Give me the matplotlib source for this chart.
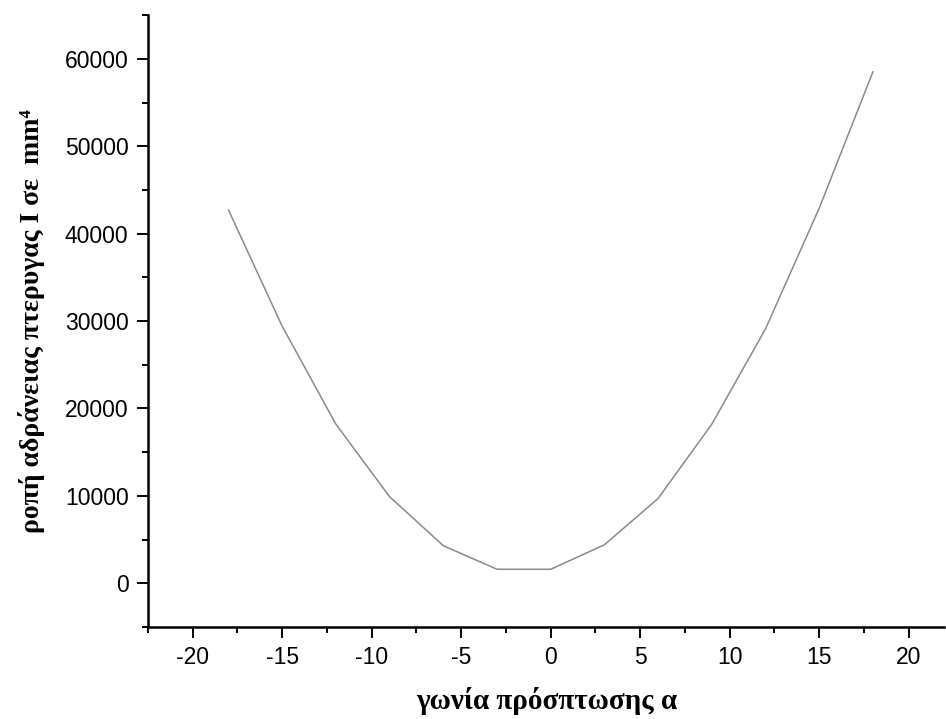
import matplotlib
matplotlib.use('Agg')
import matplotlib.pyplot as plt
from matplotlib.ticker import MultipleLocator

plt.rcParams['axes.unicode_minus'] = False

# γωνία πρόσπτωσης (μοίρες) και ροπή αδράνειας (mm^4)
gonia = [-18, -15, -12, -9, -6, -3, 0, 3, 6, 9, 12, 15, 18]
ropi = [42700, 29400, 18200, 9900, 4300, 1600, 1600, 4400, 9700, 18200, 29100, 42900, 58500]

fig = plt.figure(figsize=(9.46, 7.19), dpi=100)
ax = fig.add_axes([0.1564, 0.128, 0.842, 0.851])

ax.plot(gonia, ropi, color='#8a8a8a', lw=1.1)

ax.set_xlim(-22.5, 22)
ax.set_ylim(-5000, 65000)
ax.xaxis.set_major_locator(MultipleLocator(5))
ax.xaxis.set_minor_locator(MultipleLocator(2.5))
ax.yaxis.set_major_locator(MultipleLocator(10000))
ax.yaxis.set_minor_locator(MultipleLocator(5000))

for s in ['top', 'right']:
    ax.spines[s].set_visible(False)
for s in ['left', 'bottom']:
    ax.spines[s].set_linewidth(1.8)

ax.tick_params(which='major', direction='out', length=8, width=1.4, labelsize=16.5, pad=6)
ax.tick_params(which='minor', direction='out', length=4, width=1.4)
for lab in ax.get_xticklabels() + ax.get_yticklabels():
    lab.set_family('Liberation Sans')

ax.set_xlabel('γωνία πρόσπτωσης α', family=['Liberation Serif', 'DejaVu Serif'],
              fontweight='bold', fontsize=21, labelpad=13)
ax.set_ylabel('ροπή αδράνειας πτερυγας I σε  mm⁴', family=['Liberation Serif', 'DejaVu Serif'],
              fontweight='bold', fontsize=20, labelpad=14)

plt.savefig('out.png', dpi=100)
